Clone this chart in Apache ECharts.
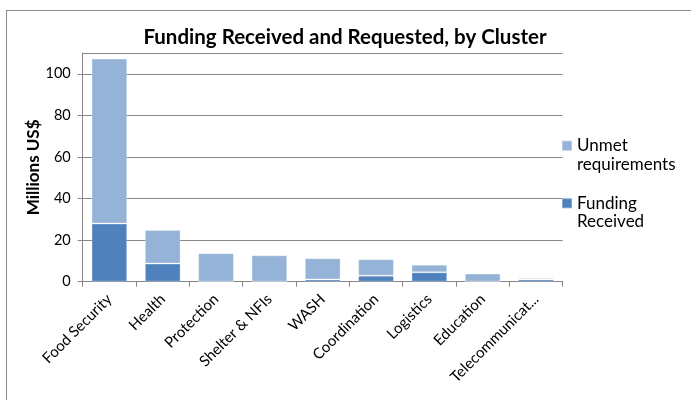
<!DOCTYPE html>
<html>
<head>
<meta charset="utf-8">
<script src="https://cdn.jsdelivr.net/npm/echarts@6/dist/echarts.min.js"></script>
<style>
html,body{margin:0;padding:0;background:#fff;}
#frame{position:absolute;left:6px;top:10px;width:700px;height:400px;border:1px solid #8c8c8c;box-sizing:border-box;}
#c{position:absolute;left:0;top:0;width:691px;height:400px;}
</style>
</head>
<body>
<div id="frame"></div>
<div id="c"></div>
<script>
const categories = ['Food Security','Health','Protection','Shelter & NFIs','WASH','Coordination','Logistics','Education','Telecommunications'];
const fundingReceived = [28.0, 8.7, 0, 0, 1.1, 2.9, 4.5, 0, 1.1];
const unmetRequirements = [79.3, 16.2, 13.7, 12.7, 10.2, 7.9, 3.7, 3.9, 0.7];

const FONT = 'Lato';
const chart = echarts.init(document.getElementById('c'), null, {renderer:'canvas'});
chart.setOption({
  animation:false,
  backgroundColor:'transparent',
  title:{
    text:'Funding Received and Requested, by Cluster',
    left:340, top:22, textAlign:'center',
    textStyle:{fontFamily:FONT, fontWeight:'bold', fontSize:20.5, color:'#000'}
  },
  legend:{
    orient:'vertical', left:556, top:113,
    itemWidth:10, itemHeight:10, itemGap:2,
    icon:'rect',
    data:['Unmet requirements','Funding Received'],
    formatter: n => '\n' + n.replace(' ', '\n'),
    textStyle:{fontFamily:FONT, fontSize:17, color:'#000', lineHeight:18.5}
  },
  grid:{left:82.7, right:128.3, top:53, bottom:118.3, containLabel:false},
  xAxis:{
    type:'category', data:categories,
    axisLine:{lineStyle:{color:'#868686', width:1}},
    axisTick:{show:true, length:5, lineStyle:{color:'#868686'}},
    axisLabel:{
      rotate:45, margin:15, interval:0,
      fontFamily:FONT, fontSize:15, color:'#000',
      formatter: v => v.length > 15 ? v.slice(0,14) + '...' : v
    }
  },
  yAxis:{
    type:'value', min:0, max:110, interval:20,
    name:'Millions US$', nameLocation:'middle', nameGap:41, nameRotate:90,
    nameMoveOverlap:false,
    nameTextStyle:{fontFamily:FONT, fontWeight:'bold', fontSize:17, color:'#000'},
    axisLine:{show:true, lineStyle:{color:'#868686', width:1}},
    axisTick:{show:true, length:5, lineStyle:{color:'#868686'}},
    axisLabel:{fontFamily:FONT, fontSize:14.5, color:'#000', margin:12, showMaxLabel:false},
    splitLine:{show:true, lineStyle:{color:'#868686', width:1}}
  },
  series:[
    {
      name:'Funding Received', type:'bar', stack:'t', data:fundingReceived,
      barCategoryGap:'33%',
      itemStyle:{color:'#4f81bd', borderColor:'rgba(255,255,255,0.3)', borderWidth:1}
    },
    {
      name:'Unmet requirements', type:'bar', stack:'t', data:unmetRequirements,
      barCategoryGap:'33%',
      itemStyle:{color:'#95b3d7', borderColor:'rgba(255,255,255,0.3)', borderWidth:1}
    }
  ]
});
</script>
</body>
</html>
